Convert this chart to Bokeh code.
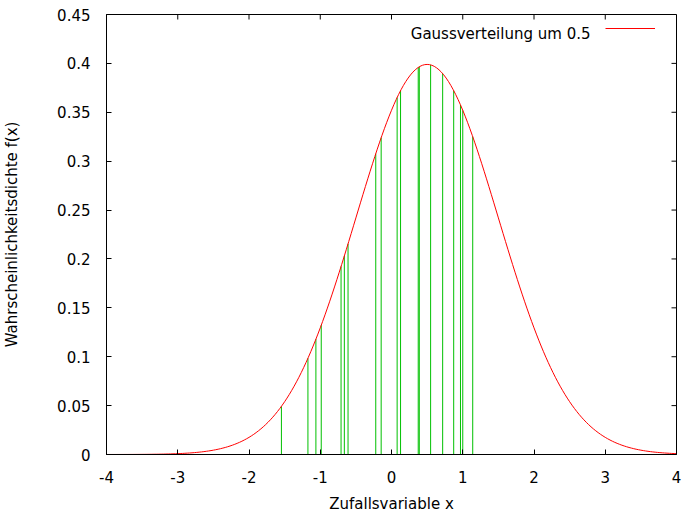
import numpy as np
from bokeh.plotting import figure
from bokeh.models import (FixedTicker, CustomJSTickFormatter, Range1d,
                          Label, Legend, LegendItem)
from bokeh.embed import file_html
from bokeh.resources import INLINE

# ---- data ----
mu = 0.5
sigma = 1.0
x_ticks = [-4, -3, -2, -1, 0, 1, 2, 3, 4]
x_tick_labels = ["-4", "-3", "-2", "-1", "0", "1", "2", "3", "4"]
y_ticks = [0.0, 0.05, 0.1, 0.15, 0.2, 0.25, 0.3, 0.35, 0.4, 0.45]
y_tick_labels = ["0", "0.05", "0.1", "0.15", "0.2", "0.25", "0.3", "0.35", "0.4", "0.45"]
# x positions of the green impulses
sample_x = [-1.545, -1.173, -1.061, -0.986, -0.708, -0.662, -0.610, -0.221, -0.145,
            0.079, 0.127, 0.375, 0.39, 0.549, 0.718, 0.873, 0.968, 1.0, 1.14]
legend_label = "Gaussverteilung um 0.5"
x_label = "Zufallsvariable x"
y_label = "Wahrscheinlichkeitsdichte f(x)"
x_min, x_max = -4, 4
y_min, y_max = 0, 0.45


def density(x):
    x = np.asarray(x, dtype=float)
    return np.exp(-(x - mu) ** 2 / (2 * sigma ** 2)) / (sigma * np.sqrt(2 * np.pi))


curve_x = np.linspace(x_min, x_max, 241)
curve_y = density(curve_x)
sample_y = density(sample_x)

FONT = "DejaVu Sans"
FS = "15px"

W, H = 683, 515
BL, BR, BT, BB = 106, 7, 14, 61
FRAME_W = W - BL - BR
FRAME_H = H - BT - BB
TICK = 5

p = figure(width=W, height=H, x_range=Range1d(x_min, x_max), y_range=Range1d(y_min, y_max),
           output_backend="svg", toolbar_location=None,
           min_border_left=BL, min_border_right=BR, min_border_top=BT, min_border_bottom=BB,
           x_axis_label=x_label, y_axis_label=y_label)
p.xgrid.visible = False
p.ygrid.visible = False
p.outline_line_color = "black"
p.background_fill_color = "white"
p.border_fill_color = "white"

FMT_CODE = """
const i = tvals.findIndex(t => Math.abs(t - tick) < 1e-9);
return i >= 0 ? tlabels[i] : '';
"""
p.xaxis.ticker = FixedTicker(ticks=x_ticks)
p.xaxis.formatter = CustomJSTickFormatter(args=dict(tvals=x_ticks, tlabels=x_tick_labels), code=FMT_CODE)
p.yaxis.ticker = FixedTicker(ticks=y_ticks)
p.yaxis.formatter = CustomJSTickFormatter(args=dict(tvals=y_ticks, tlabels=y_tick_labels), code=FMT_CODE)

for ax in p.xaxis + p.yaxis:
    ax.major_tick_in = TICK
    ax.major_tick_out = 0
    ax.minor_tick_in = 0
    ax.minor_tick_out = 0
    ax.axis_line_color = "black"
    ax.major_tick_line_color = "black"
    ax.major_label_text_font = FONT
    ax.major_label_text_font_size = FS
    ax.major_label_text_color = "black"
    ax.axis_label_text_font = FONT
    ax.axis_label_text_font_size = FS
    ax.axis_label_text_font_style = "normal"
    ax.axis_label_text_color = "black"

p.xaxis.major_label_standoff = 16
p.xaxis.axis_label_standoff = 9
p.yaxis.major_label_standoff = 16
p.yaxis.axis_label_standoff = 33

# mirrored ticks on top and right border (gnuplot style), from the tick arrays
dy = TICK * (y_max - y_min) / FRAME_H
dx = TICK * (x_max - x_min) / FRAME_W
p.segment(x0=x_ticks, y0=[y_max] * len(x_ticks), x1=x_ticks, y1=[y_max - dy] * len(x_ticks),
          line_color="black", line_width=1)
p.segment(x0=[x_max] * len(y_ticks), y0=y_ticks, x1=[x_max - dx] * len(y_ticks), y1=y_ticks,
          line_color="black", line_width=1)

# impulses
p.segment(x0=sample_x, y0=np.zeros(len(sample_x)), x1=sample_x, y1=sample_y,
          line_color="#00c000", line_width=1)
# gaussian curve
curve = p.line(curve_x, curve_y, line_color="#ff0000", line_width=1)

# legend: key on the right, text on the left (gnuplot style)
legend = Legend(items=[LegendItem(label=" ", renderers=[curve])], location="top_right",
                glyph_width=50, glyph_height=14, label_width=14, label_height=14,
                label_standoff=0, padding=0, margin=7, spacing=0,
                border_line_alpha=0, background_fill_alpha=0,
                label_text_font=FONT, label_text_font_size=FS)
p.add_layout(legend)
p.add_layout(Label(x=2.793, y=0.4303, text=legend_label, text_align="right",
                   text_baseline="alphabetic", text_font=FONT, text_font_size=FS,
                   text_color="black"))

open("out.html", "w").write(file_html(p, INLINE))
